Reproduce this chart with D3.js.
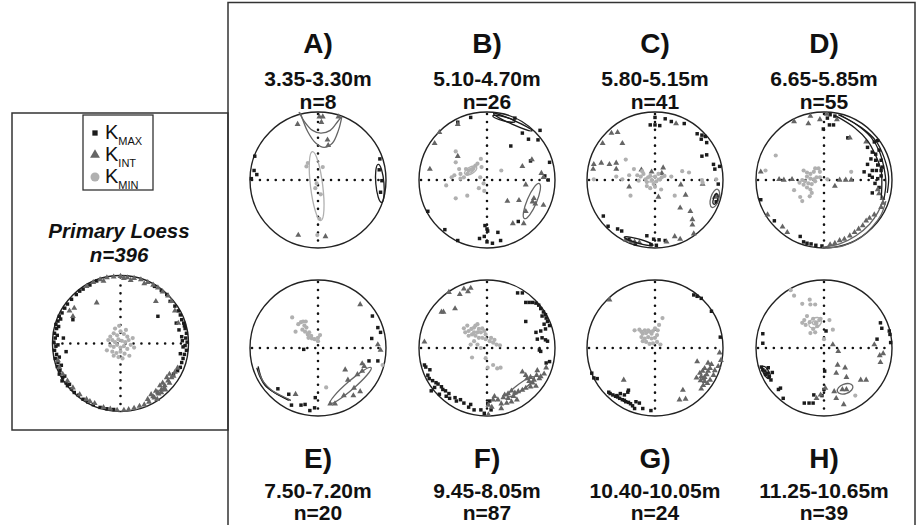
<!DOCTYPE html>
<html>
<head>
<meta charset="utf-8">
<script src="https://cdn.jsdelivr.net/npm/d3@7"></script>
<style>
  body { margin: 0; background: #fff; }
  text { font-family: "Liberation Sans", Arial, Helvetica, sans-serif; fill: #111; }
</style>
</head>
<body>
<svg id="chart" width="917" height="525"></svg>
<script>
// panel labels
const letters = ['A)', 'B)', 'C)', 'D)', 'E)', 'F)', 'G)', 'H)'];
const depths = ['3.35-3.30m', '5.10-4.70m', '5.80-5.15m', '6.65-5.85m', '7.50-7.20m', '9.45-8.05m', '10.40-10.05m', '11.25-10.65m'];
const counts = ['n=8', 'n=26', 'n=41', 'n=55', 'n=20', 'n=87', 'n=24', 'n=39'];

// points are [x, y] on the net, in percent of the net radius (north up, east right)
// ellipses: [x, y, semi-major, semi-minor, angle deg, axis]
// curves: {k: axis, pts: [...]}

// ---- Primary loess ----
const kmaxP = [[-72,65],[-78,58],[-82,52],[-86,45],[-90,40],[-92,33],[-95,28],[-94,22],[-97,15],[-96,8],[-98,2],[-95,-4],[-97,-10],[-94,-16],[-96,-22],[-92,-28],[-93,-34],[-89,-40],[-90,-45],[-85,-50],[-86,-55],[-80,-58],[-78,-62],[-72,-67],[-68,-72],[-88,36],[-91,25],[-93,12],[-92,-2],[-90,-20],[-87,-32],[-82,-48],[-75,-60],[-84,8],[-80,-12],[-62,-76],[-55,-82],[-48,-86],[-40,-90],[-30,-94],[-20,-96],[-10,-97],
  [80,55],[85,48],[88,42],[90,35],[93,30],[95,22],[97,15],[96,8],[98,2],[95,-3],[97,-10],[94,-16],[92,-22],[90,-28],[88,-35],[84,-40],[86,20],[90,10],[92,-5],[88,-15],[82,30],[78,-45],[73,62],[91,4],[94,26],
  [-55,80],[-45,86],[-60,77],[-35,92],[-65,72],[60,78],[68,72],[50,84],[-70,35],[55,40]];
const kintP = [[-40,90],[-30,94],[-20,97],[-10,98],[0,99],[10,97],[20,96],[30,94],[40,90],[48,86],[-50,84],[-25,92],[5,96],[15,93],[35,88],[55,82],[62,76],[70,70],[75,62],
  [-68,52],[-75,48],[-70,40],[52,62],[80,48],[85,30],[-35,60],
  [40,-82],[48,-78],[55,-72],[60,-68],[65,-62],[70,-55],[75,-50],[80,-42],[84,-36],[45,-75],[52,-70],[58,-62],[62,-58],[68,-50],[72,-45],[50,-80],[56,-74],[64,-66],[72,-58],[78,-48],[42,-86],[35,-90],[28,-92],[20,-95],[12,-97],[5,-98],[-5,-98],[-15,-96],[-25,-94],[60,-72],[66,-68],[54,-82],
  [-60,-75],[-50,-82],[-45,-85],[-38,-88],[-70,-65],[-78,-55],[-85,-45],[-90,-35],[-92,-25]];
const kminP = [[-15,10],[-10,15],[-5,12],[0,18],[5,14],[10,10],[-12,5],[-8,2],[-3,6],[2,4],[7,2],[12,5],[15,-2],[-15,-3],[-10,-5],[-5,-2],[0,-6],[5,-4],[10,-8],[-12,-12],[-6,-14],[0,-12],[6,-15],[-3,-20],[3,-22],[-18,5],[18,8],[-8,22],[8,20],[-20,-10],[20,-6],[-2,26],[13,-18],[-10,-18]];

// ---- A ----
const kmaxA = [[-93,35],[-94,14],[-90,8],[-98,2],[91,31],[90,15],[94,-1],[92,-18]];
const kintA = [[-30,82],[2,93],[7,93],[5,85],[14,59],[15,51],[30,93],[-29,-81],[11,-83]];
const kminA = [[-15,25],[-17,20],[7,19],[-2,-5],[-4,-12],[4,-21],[2,-57],[-1,-81]];
const ellA = [[-2,-9,51,9,97,'min'],[91,-5,28,6,95,'max']];
const curveA = [
  {k: 'int', pts: [[-28,100],[-20,86],[-8,73],[4,69],[18,73],[29,86],[35,94]]},
  {k: 'int', pts: [[-26,99],[-15,71],[-3,54],[9,48],[21,54],[30,73],[35,93]]}
];

// ---- B ----
const kmaxB = [[-24,92],[-43,85],[41,91],[52,69],[61,60],[75,59],[35,50],[64,28],[92,26],[85,6],[-87,-46],[-62,-73],[-43,-89],[-11,-86],[-3,-67],[0,-72],[1,-75],[-4,-83],[0,-91],[8,-93],[16,-77],[20,-89],[46,-61],[90,0],[78,73]];
const kintB = [[-43,82],[-70,70],[-77,54],[-43,35],[-84,16],[66,30],[52,20],[80,10],[83,4],[57,-7],[69,-27],[30,-31],[47,-30],[71,-35],[83,-37],[57,-46],[38,-64],[54,-64],[67,-32]];
const kminB = [[-46,42],[-46,26],[-41,16],[-48,7],[-52,4],[-60,-8],[-39,2],[-34,4],[-29,9],[-27,14],[-23,15],[-20,17],[-17,21],[-14,24],[-9,31],[-8,19],[-10,4],[-12,-12],[-5,-5],[-4,-16],[-29,-23],[-46,-27],[21,14],[-39,9],[-31,16]];
const ellB = [[-24,14,10,5,30,'min'],[-24,14,5,3,30,'min'],[66,-31,28,7,67,'int'],[38,85,31,3,-24,'max'],[25,90,17,3,-14,'max']];
const curveB = [];

// ---- C ----
const kmaxC = [[0,92],[-7,81],[0,81],[7,80],[15,90],[24,86],[43,83],[62,68],[69,66],[74,64],[68,60],[76,55],[69,35],[76,37],[86,23],[88,16],[95,20],[90,-32],[-76,-53],[-69,-68],[-55,-72],[-49,-75],[-38,-87],[-12,-82],[-2,-87],[6,-88],[15,-89],[-29,-94],[-6,-95],[2,-96],[93,-6]];
const kintC = [[31,83],[-55,70],[-64,69],[-48,54],[-77,54],[-90,23],[-91,16],[-79,25],[-67,23],[-57,25],[-57,16],[-38,-10],[-20,15],[-5,12],[12,18],[10,10],[5,-25],[38,-7],[45,-22],[37,-41],[52,-46],[55,-58],[55,-66],[57,-79],[70,-6],[88,-25],[-43,-88],[-36,-90],[-30,-91],[-23,-92],[17,-91],[29,-83],[37,-87],[90,-23]];
const kminC = [[-43,30],[-31,16],[-26,7],[-21,5],[-17,9],[-14,1],[-12,-3],[-10,4],[-7,6],[-5,0],[-2,-6],[0,5],[2,-2],[5,9],[7,1],[10,4],[14,6],[-12,-9],[-7,-12],[0,-10],[9,-14],[24,5],[29,-23],[40,13],[50,11],[-36,-23],[-57,5],[-90,1],[69,0],[70,-4],[90,1],[-48,1],[-38,7],[-24,-1],[-19,13]];
const ellC = [[-5,1,9,4,0,'min'],[88,-27,14,6,73,'int'],[89,-28,8,3,73,'max'],[-24,-90,22,3,-16,'max']];
const curveC = [];

// ---- D ----
const kmaxD = [[9,96],[16,94],[5,91],[8,81],[14,81],[-1,75],[35,62],[64,48],[74,56],[71,41],[76,38],[81,44],[69,31],[76,29],[84,29],[64,23],[79,22],[86,19],[71,14],[77,14],[84,14],[59,12],[67,7],[71,4],[79,2],[84,6],[75,-5],[81,-11],[71,-19],[-93,-29],[-73,-60],[-35,-83],[-30,-91],[-25,-93],[-19,-94],[-12,-96],[-3,-97],[79,58]];
const kintD = [[-44,86],[-23,83],[-6,89],[-20,94],[4,97],[19,89],[38,62],[62,56],[-93,12],[-66,1],[-59,0],[-47,1],[16,-9],[23,0],[32,0],[40,0],[79,-14],[81,-20],[86,-27],[87,-34],[84,-40],[74,-51],[67,-56],[62,-60],[57,-67],[51,-72],[45,-77],[38,-82],[30,-87],[23,-89],[16,-93],[9,-95],[-61,-69],[-54,-77],[-83,-51]];
const kminD = [[-71,36],[-86,14],[-44,-15],[-35,-25],[-32,-31],[-30,14],[-25,11],[-20,9],[-15,12],[-13,17],[-8,17],[-6,12],[-25,5],[-20,2],[-15,1],[-28,-2],[-23,-5],[-18,-6],[-13,-2],[-25,-11],[-20,-14],[-18,-19],[-11,4],[-32,0],[-30,-7],[-36,-4],[-6,4],[5,1],[40,12],[-21,-24]];
const ellD = [];
const curveD = [
  {k: 'max', pts: [[21,96],[47,82],[69,63],[81,43],[88,19],[91,-5],[88,-29]]},
  {k: 'max', pts: [[18,94],[45,77],[64,58],[76,36],[84,14],[85,-10],[84,-27]]},
  {k: 'max', pts: [[23,96],[55,77],[76,58],[88,34],[95,5],[93,-19]]},
  {k: 'int', pts: [[-3,-99],[23,-94],[47,-82],[67,-65],[79,-48],[87,-29]]},
  {k: 'int', pts: [[4,-100],[28,-97],[52,-86],[71,-69],[84,-51],[91,-31]]}
];

// ---- E ----
const kmaxE = [[80,47],[88,30],[92,23],[79,14],[75,-19],[88,-19],[-59,-60],[-43,-68],[-39,-84],[-25,-84],[-19,-83],[-12,-92],[-5,-88],[-4,-73],[-21,-2]];
const kintE = [[62,64],[88,5],[92,-3],[65,-23],[68,-27],[40,-32],[58,-39],[65,-34],[44,-47],[53,-59],[62,-64],[52,-70],[38,-70],[25,-82],[18,-82],[-33,-68]];
const kminE = [[-38,45],[-29,35],[-25,38],[-22,39],[-18,39],[-20,33],[-17,30],[-23,27],[-19,24],[-15,20],[-13,23],[-10,18],[-14,15],[-9,14],[-5,13],[0,15],[3,19],[-33,24],[12,-58],[0,10],[95,-25]];
const ellE = [[48,-55,40,6,41,'int']];
const curveE = [
  {k: 'max', pts: [[-90,-29],[-85,-43],[-78,-55],[-65,-65],[-50,-73],[-40,-77]]},
  {k: 'max', pts: [[-88,-27],[-82,-47],[-72,-60],[-58,-69],[-43,-77]]},
  {k: 'int', pts: [[-88,-33],[-80,-50],[-68,-62],[-52,-71],[-42,-76]]}
];

// ---- F ----
const kmaxF = [[45,81],[52,81],[57,67],[62,67],[67,67],[72,66],[76,63],[79,58],[83,53],[86,49],[81,47],[87,44],[89,39],[84,35],[92,33],[86,28],[79,25],[72,23],[57,39],[74,13],[81,15],[86,12],[89,10],[77,-3],[79,-5],[87,-22],[92,-20],
  [-90,-28],[-87,-40],[-85,-45],[-80,-48],[-75,-51],[-72,-53],[-67,-57],[-65,-61],[-61,-63],[-56,-67],[-77,-58],[-82,-63],[-70,-68],[-60,-71],[-47,-73],[-39,-76],[-34,-81],[-27,-87],[-19,-91],[-9,-91],[1,-82],[4,-78],[6,-91],[-4,-96],[-92,-25],[-84,-32],[-55,-74],[-45,-78],[-24,-83]];
const kintF = [[-56,82],[-40,79],[-34,87],[-28,83],[-24,88],[-47,58],[-67,53],[-64,53],[-92,9],
  [52,-35],[57,-40],[59,-45],[62,-49],[64,-43],[67,-51],[69,-47],[73,-40],[74,-33],[77,-45],[79,-42],[72,-56],[64,-57],[57,-59],[52,-62],[46,-64],[41,-66],[36,-63],[31,-67],[26,-69],[24,-73],[31,-74],[39,-71],[44,-76],[36,-79],[29,-81],[21,-82],[16,-76],[11,-71],[9,-76],[2,-84],[7,-87],[21,-89],[84,-38],[87,-29],[2,-98]];
const kminF = [[-34,29],[-29,33],[-27,25],[-23,28],[-19,30],[-17,33],[-14,35],[-12,28],[-9,23],[-7,29],[-4,25],[-22,20],[-17,18],[-12,15],[-7,15],[-2,13],[4,10],[9,8],[14,5],[19,4],[-19,10],[-14,5],[-24,5],[-9,0],[-22,-14],[-2,-15],[9,-25],[1,-29],[15,-30],[20,-29],[-19,23],[-27,18],[-14,23],[-32,23],[-2,20],[6,15],[11,12]];
const ellF = [[50,-57,24,5,36,'int']];
const curveF = [];

// ---- G ----
const kmaxG = [[57,78],[62,76],[68,73],[83,54],[96,16],[-93,-37],[-90,-44],[-85,-45],[-68,-65],[-66,-67],[-62,-69],[-58,-71],[-55,-72],[-52,-74],[-48,-76],[-45,-77],[-43,-79],[-39,-80],[-36,-82],[-33,-85],[-56,-70],[-51,-67],[-45,-69],[-40,-65],[-39,-62],[-28,-79],[-23,-81],[-18,-89],[-6,-92],[-30,-89]];
const kintG = [[-67,71],[-46,-47],[41,-62],[36,-76],[45,-75],[62,-20],[66,-37],[68,-42],[71,-45],[73,-43],[76,-39],[78,-34],[81,-30],[83,-24],[73,-49],[71,-55],[68,-60],[77,-52],[81,-47],[86,-40],[88,-33],[67,-48],[73,-30],[78,-22],[95,-7],[97,-18],[93,-27],[61,-44],[70,-34]];
const kminG = [[-30,26],[-23,27],[-20,24],[-18,21],[-15,26],[-13,22],[-10,26],[-8,24],[-5,21],[-3,25],[0,29],[4,26],[6,34],[11,44],[-20,16],[-15,14],[-10,16],[-5,14],[0,15],[3,19],[-13,9],[-8,6],[-3,7],[3,9],[8,5],[-18,10]];
const ellG = [];
const curveG = [];

// ---- H ----
const kmaxH = [[83,37],[85,29],[96,25],[97,20],[78,13],[98,8],[-90,21],[-90,7],[-92,-28],[-90,-32],[-87,-34],[-83,-37],[-81,-42],[-78,-47],[-86,-39],[-76,-36],[-82,-29],[-64,-59],[-67,-61],[-60,-74],[-29,-81],[-22,-81],[-16,-81],[-15,-69],[0,-61],[1,-34],[3,25],[-3,-70]];
const kintH = [[13,5],[21,-5],[20,-25],[31,-29],[18,-37],[33,-43],[54,-47],[62,-47],[27,-61],[33,-61],[15,-64],[2,-59],[-5,-69],[-11,-74],[18,-74],[29,-83],[74,5],[82,-11],[87,-8],[83,-21]];
const kminH = [[-49,85],[-44,77],[-32,65],[-21,71],[-20,64],[-13,64],[-25,47],[-29,41],[-32,37],[-27,34],[-21,38],[-16,43],[-12,37],[-10,32],[-7,41],[-5,43],[-16,28],[-13,23],[-20,22],[8,41],[13,27],[0,13],[46,-70]];
const ellH = [[-13,37,10,7,30,'min'],[-13,37,4,3,0,'min'],[31,-60,12,7,20,'int'],[-85,-36,10,4,-60,'max']];
const curveH = [];

const colX = [318, 487, 655, 824];
const rowY = [180, 348];
const R = 68;

const color = {max: '#1b1b1b', int: '#656565', min: '#b0b0b0'};
const svg = d3.select('#chart');

const nets = [
  {max: kmaxA, int: kintA, min: kminA, ell: ellA, cur: curveA},
  {max: kmaxB, int: kintB, min: kminB, ell: ellB, cur: curveB},
  {max: kmaxC, int: kintC, min: kminC, ell: ellC, cur: curveC},
  {max: kmaxD, int: kintD, min: kminD, ell: ellD, cur: curveD},
  {max: kmaxE, int: kintE, min: kminE, ell: ellE, cur: curveE},
  {max: kmaxF, int: kintF, min: kminF, ell: ellF, cur: curveF},
  {max: kmaxG, int: kintG, min: kminG, ell: ellG, cur: curveG},
  {max: kmaxH, int: kintH, min: kminH, ell: ellH, cur: curveH}
];

// frames
svg.append('rect').attr('x', 228).attr('y', 2.5).attr('width', 687).attr('height', 540)
  .attr('fill', 'none').attr('stroke', '#333').attr('stroke-width', 1.5);
svg.append('rect').attr('x', 12).attr('y', 113).attr('width', 216).attr('height', 317)
  .attr('fill', 'none').attr('stroke', '#333').attr('stroke-width', 1.5);

function drawNet(cx, cy, r, d) {
  const g = svg.append('g');
  const x = d3.scaleLinear().domain([-100, 100]).range([cx - r, cx + r]);
  const y = d3.scaleLinear().domain([-100, 100]).range([cy + r, cy - r]);

  g.append('circle').attr('cx', cx).attr('cy', cy).attr('r', r)
    .attr('fill', 'none').attr('stroke', '#222').attr('stroke-width', 1.4);
  // dotted cross
  g.append('line').attr('x1', x(-97)).attr('x2', x(100)).attr('y1', y(0)).attr('y2', y(0));
  g.append('line').attr('x1', x(0)).attr('x2', x(0)).attr('y1', y(97)).attr('y2', y(-100));
  g.selectAll('line').attr('stroke', '#111').attr('stroke-width', 2.6)
    .attr('stroke-linecap', 'round').attr('stroke-dasharray', '0 7.9');

  const sq = d3.symbol().type(d3.symbolSquare).size(12);
  const tri = d3.symbol().type(d3.symbolTriangle).size(15);

  g.selectAll('.kmax').data(d.max).join('path').attr('class', 'kmax')
    .attr('d', sq).attr('transform', p => `translate(${x(p[0])},${y(p[1])})`)
    .attr('fill', color.max);
  g.selectAll('.kint').data(d.int).join('path').attr('class', 'kint')
    .attr('d', tri).attr('transform', p => `translate(${x(p[0])},${y(p[1])})`)
    .attr('fill', color.int);
  g.selectAll('.kmin').data(d.min).join('circle').attr('class', 'kmin')
    .attr('cx', p => x(p[0])).attr('cy', p => y(p[1])).attr('r', 2.1)
    .attr('fill', color.min);

  const k = r / 100;
  g.selectAll('.ell').data(d.ell || []).join('ellipse').attr('class', 'ell')
    .attr('cx', e => x(e[0])).attr('cy', e => y(e[1]))
    .attr('rx', e => e[2] * k).attr('ry', e => e[3] * k)
    .attr('transform', e => `rotate(${-e[4]},${x(e[0])},${y(e[1])})`)
    .attr('fill', 'none').attr('stroke', e => color[e[5]]).attr('stroke-width', 1.3);

  const line = d3.line().x(p => x(p[0])).y(p => y(p[1])).curve(d3.curveCatmullRom);
  g.selectAll('.cur').data(d.cur || []).join('path').attr('class', 'cur')
    .attr('d', c => line(c.pts)).attr('fill', 'none')
    .attr('stroke', c => color[c.k]).attr('stroke-width', 1.3);
}

// the eight site nets
nets.forEach((d, i) => {
  const cx = colX[i % 4], cy = rowY[Math.floor(i / 4)];
  drawNet(cx, cy, R, d);
  const top = i < 4;
  const ys = top ? [53, 86, 109] : [468, 498, 520];
  svg.append('text').attr('x', cx).attr('y', ys[0]).attr('text-anchor', 'middle')
    .attr('font-size', 28).attr('font-weight', 'bold').text(letters[i]);
  svg.append('text').attr('x', cx).attr('y', ys[1]).attr('text-anchor', 'middle')
    .attr('font-size', 21).attr('font-weight', 'bold').text(depths[i]);
  svg.append('text').attr('x', cx).attr('y', ys[2]).attr('text-anchor', 'middle')
    .attr('font-size', 21).attr('font-weight', 'bold').text(counts[i]);
});

// primary loess net
drawNet(120.5, 343.5, 68, {max: kmaxP, int: kintP, min: kminP});
svg.append('text').attr('x', 119).attr('y', 238).attr('text-anchor', 'middle')
  .attr('font-size', 20.5).attr('font-weight', 'bold').attr('font-style', 'italic').text('Primary Loess');
svg.append('text').attr('x', 119).attr('y', 262).attr('text-anchor', 'middle')
  .attr('font-size', 20.5).attr('font-weight', 'bold').attr('font-style', 'italic').text('n=396');

// legend
const legendKeys = ['max', 'int', 'min'];
const legendSubs = ['MAX', 'INT', 'MIN'];
svg.append('rect').attr('x', 83).attr('y', 115).attr('width', 70).attr('height', 75)
  .attr('fill', 'none').attr('stroke', '#333').attr('stroke-width', 1.3);
const lg = svg.append('g');
legendKeys.forEach((key, i) => {
  const yb = 139 + i * 22;
  const my = yb - 6;
  if (key === 'max') {
    lg.append('path').attr('d', d3.symbol().type(d3.symbolSquare).size(28)())
      .attr('transform', `translate(95,${my})`).attr('fill', color.max);
  } else if (key === 'int') {
    lg.append('path').attr('d', d3.symbol().type(d3.symbolTriangle).size(42)())
      .attr('transform', `translate(95,${my})`).attr('fill', color.int);
  } else {
    lg.append('circle').attr('cx', 95).attr('cy', my).attr('r', 4.5).attr('fill', color.min);
  }
  const t = lg.append('text').attr('x', 105).attr('y', yb).attr('font-size', 20).text('K');
  t.append('tspan').attr('font-size', 11).attr('dy', 6).text(legendSubs[i]);
});
</script>
</body>
</html>
